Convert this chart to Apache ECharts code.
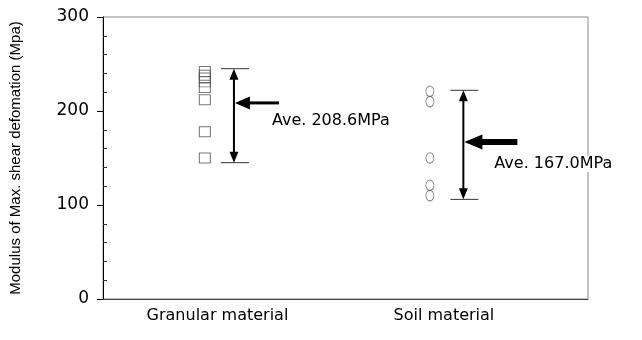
<!DOCTYPE html>
<html>
<head>
<meta charset="utf-8">
<script src="https://cdn.jsdelivr.net/npm/echarts@6/dist/echarts.min.js"></script>
<style>
  html, body { margin: 0; padding: 0; background: #fff; }
  #chart { width: 642px; height: 340px; }
</style>
</head>
<body>
<div id="chart"></div>
<script>
// categories and measured values
var categories = ["Granular material", "Soil material"];
var granularValues = [242, 238, 235, 231, 225, 212, 178, 150];
var soilValues = [221, 210, 150, 121, 110];
var averages = [208.6, 167.0];
var rangeLow = [145, 106];
var rangeHigh = [245, 222];

// horizontal placement on a 0-100 x scale
var markerX = [21, 67.4];
var rangeX = [27, 74.3];
var labelX = [23.6, 70.3];

var FONT = "DejaVu Sans";

// arrow look per group
var arrowWidth = [3, 6];
var arrowLen = [45, 54];
var headLen = [15, 18];
var headH = [13, 15];
var textDx = [38, 31];
var textDy = [18, 22];

var chart = echarts.init(document.getElementById("chart"), null, { renderer: "canvas" });

function renderRange(params, api) {
  var i = params.dataIndex;
  var x = api.value(0);
  var top = api.coord([x, api.value(2)]);
  var bot = api.coord([x, api.value(1)]);
  var avg = api.coord([x, api.value(3)]);
  var cx = top[0];
  var black = "#000";
  var children = [
    // vertical range line
    { type: "line", shape: { x1: cx, y1: top[1] + 4, x2: cx, y2: bot[1] - 4 }, style: { stroke: black, lineWidth: 2 } },
    // caps
    { type: "line", shape: { x1: cx - 13, y1: top[1], x2: cx + 15, y2: top[1] }, style: { stroke: "#333", lineWidth: 1 } },
    { type: "line", shape: { x1: cx - 13, y1: bot[1], x2: cx + 15, y2: bot[1] }, style: { stroke: "#333", lineWidth: 1 } },
    // arrowheads on the range line
    { type: "polygon", shape: { points: [[cx, top[1]], [cx - 4.5, top[1] + 11], [cx + 4.5, top[1] + 11]] }, style: { fill: black } },
    { type: "polygon", shape: { points: [[cx, bot[1]], [cx - 4.5, bot[1] - 11], [cx + 4.5, bot[1] - 11]] }, style: { fill: black } },
    // average arrow
    { type: "polygon", shape: { points: [[cx + 1, avg[1]], [cx + 1 + headLen[i], avg[1] - headH[i] / 2], [cx + 1 + headLen[i], avg[1] + headH[i] / 2]] }, style: { fill: black } },
    { type: "line", shape: { x1: cx + headLen[i], y1: avg[1], x2: cx + arrowLen[i], y2: avg[1] }, style: { stroke: black, lineWidth: arrowWidth[i] } },
    {
      type: "text",
      x: cx + textDx[i],
      y: avg[1] + textDy[i],
      style: {
        text: "Ave. " + api.value(3).toFixed(1) + "MPa",
        font: "16px " + FONT,
        fill: "#000",
        verticalAlign: "middle",
        align: "left",
        backgroundColor: "#fff"
      }
    }
  ];
  return { type: "group", children: children };
}

var option = {
  animation: false,
  backgroundColor: "#fff",
  grid: {
    left: 102, right: 54, top: 17, bottom: 41,
    show: true, borderColor: "#888", borderWidth: 1
  },
  xAxis: {
    type: "value",
    min: 0,
    max: 100,
    axisLine: { show: true, lineStyle: { color: "#444", width: 1 } },
    axisTick: { show: false },
    splitLine: { show: false },
    axisLabel: {
      customValues: labelX,
      margin: 9,
      fontFamily: FONT,
      fontSize: 16,
      color: "#000",
      formatter: function (v) {
        var k = labelX.indexOf(v);
        return k >= 0 ? categories[k] : "";
      }
    }
  },
  yAxis: [
    {
      type: "value",
      min: 0,
      max: 300,
      interval: 100,
      name: "Modulus of Max. shear defomation (Mpa)",
      nameLocation: "middle",
      nameGap: 80,
      nameTextStyle: { fontFamily: "Liberation Sans", fontSize: 15, color: "#000" },
      axisLine: { show: true, lineStyle: { color: "#000", width: 1 } },
      axisTick: { show: true, length: 6, lineStyle: { color: "#000" } },
      splitLine: { show: false },
      axisLabel: { margin: 14, fontFamily: FONT, fontSize: 17, color: "#000" }
    },
    {
      type: "value",
      position: "left",
      min: 0,
      max: 300,
      interval: 100,
      axisLine: { show: false },
      axisTick: { show: false, inside: true },
      axisLabel: { show: false },
      splitLine: { show: false },
      minorTick: { show: true, splitNumber: 5, length: 4, lineStyle: { color: "#333" } }
    }
  ],
  series: [
    {
      name: categories[0],
      type: "scatter",
      symbol: "rect",
      symbolSize: [11, 10],
      itemStyle: { color: "rgba(0,0,0,0)", borderColor: "#555", borderWidth: 1 },
      data: granularValues.map(function (v) { return [markerX[0], v]; })
    },
    {
      name: categories[1],
      type: "scatter",
      symbol: "circle",
      symbolSize: [8, 10.5],
      itemStyle: { color: "rgba(0,0,0,0)", borderColor: "#666", borderWidth: 1 },
      data: soilValues.map(function (v) { return [markerX[1], v]; })
    },
    {
      type: "custom",
      renderItem: renderRange,
      data: categories.map(function (c, i) {
        return [rangeX[i], rangeLow[i], rangeHigh[i], averages[i]];
      }),
      z: 5
    }
  ]
};

chart.setOption(option);
</script>
</body>
</html>
